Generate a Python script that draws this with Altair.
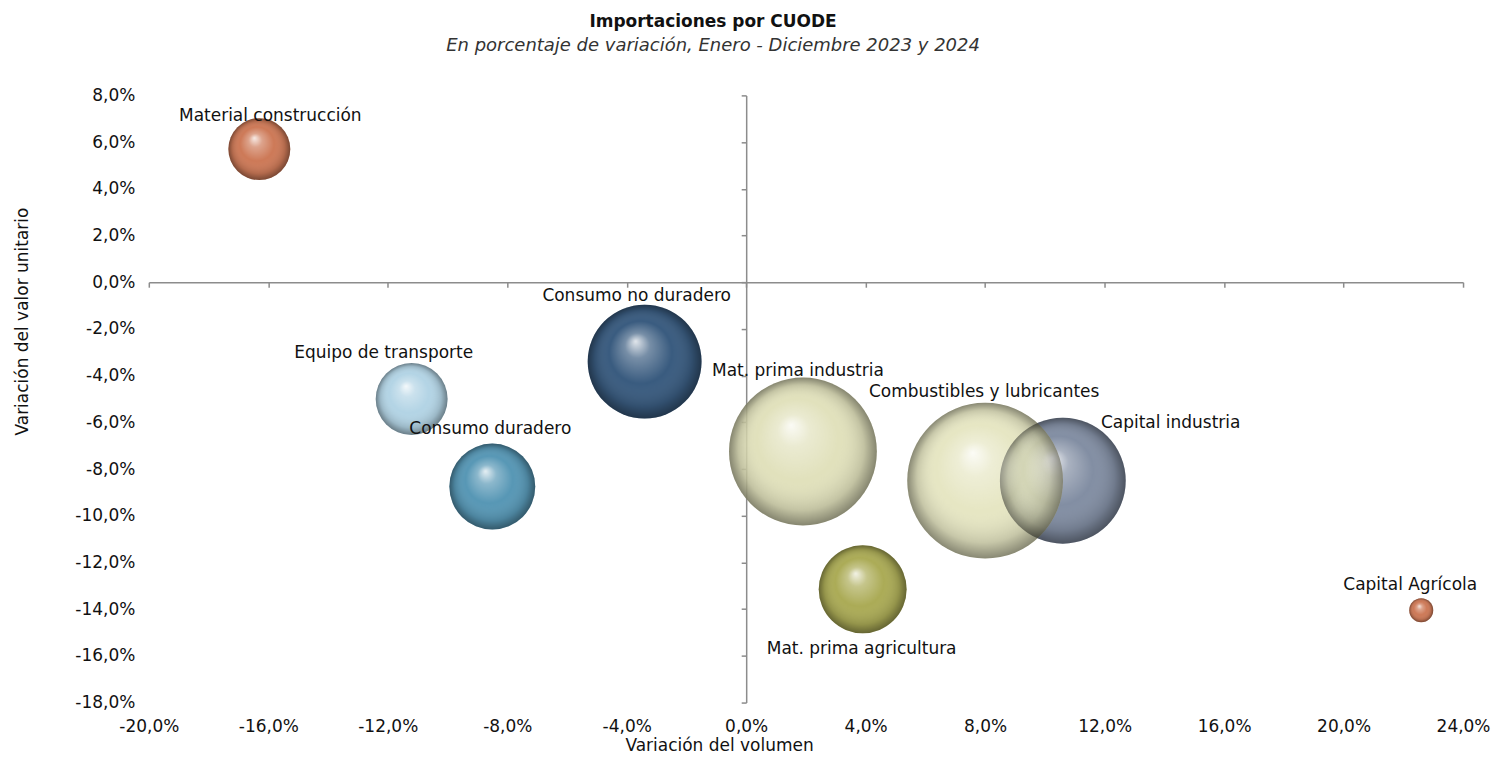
import altair as alt
import pandas as pd

categorias = ["Material construcción", "Equipo de transporte", "Consumo duradero",
              "Consumo no duradero", "Mat. prima industria", "Capital industria",
              "Combustibles y lubricantes", "Mat. prima agricultura", "Capital Agrícola"]
var_volumen = [-16.3, -11.2, -8.5, -3.4, 1.9, 10.6, 8.0, 3.9, 22.6]
var_valor = [5.7, -5.0, -8.75, -3.4, -7.25, -8.5, -8.5, -13.15, -14.05]
peso = [961, 1296, 1849, 3249, 5476, 3969, 6084, 1936, 144]

x_ticks = [-20, -16, -12, -8, -4, 0, 4, 8, 12, 16, 20, 24]
y_ticks = [-18, -16, -14, -12, -10, -8, -6, -4, -2, 0, 2, 4, 6, 8]

# styles
colores = ["#c4623a", "#a6cce0", "#3a85a8", "#163e68", "#dcdcb0",
           "#6c7a93", "#e2e2b8", "#9c9c38", "#c4623a"]
label_dx = [11, -28, -2, -8, -5, 108, -1, -1, -11]
label_dy = [-33, -46, -58, -66, -81, -58, -89, 60, -25]

df = pd.DataFrame({"cat": categorias, "vol": var_volumen, "val": var_valor, "peso": peso})

W, H = 1316, 608
XMIN, XMAX, YMIN, YMAX = -20, 24, -18, 8
FONT = "DejaVu Sans"
label_expr = "replace(replace(format(datum.value, '.1f'), '.', ','), '\u2212', '-') + '%'"

x_scale = alt.Scale(domain=[XMIN, XMAX], nice=False, zero=False)
y_scale = alt.Scale(domain=[YMIN, YMAX], nice=False, zero=False)
# Vega symbol size = area of bounding square -> (2r)^2
size_scale = alt.Scale(domain=[0, max(peso)], range=[0, (2 * 78) ** 2], zero=True)

base = alt.Chart(df)

bubbles = base.mark_circle(opacity=0.85).encode(
    x=alt.X("vol:Q", scale=x_scale,
            axis=alt.Axis(values=x_ticks, labelExpr=label_expr, domain=False, ticks=False,
                          grid=False, orient="bottom", title="Variación del volumen",
                          labelPadding=16, labelFlush=False, titleX=571, titlePadding=3)),
    y=alt.Y("val:Q", scale=y_scale,
            axis=alt.Axis(values=y_ticks, labelExpr=label_expr, domain=False, ticks=False,
                          grid=False, orient="left", title="Variación del valor unitario",
                          labelPadding=14, labelFlush=False, titleY=226, titlePadding=43)),
    size=alt.Size("peso:Q", scale=size_scale, legend=None),
    color=alt.Color("cat:N", scale=alt.Scale(domain=categorias, range=colores), legend=None),
)

shade = alt.Gradient(
    gradient="radial",
    x1=0.42, y1=0.32, r1=0.0,
    x2=0.5, y2=0.5, r2=0.5,
    stops=[
        alt.GradientStop(offset=0.0, color="rgba(255,255,255,0.95)"),
        alt.GradientStop(offset=0.22, color="rgba(255,255,255,0.35)"),
        alt.GradientStop(offset=0.55, color="rgba(255,255,255,0.0)"),
        alt.GradientStop(offset=0.85, color="rgba(0,0,0,0.15)"),
        alt.GradientStop(offset=1.0, color="rgba(0,0,0,0.45)"),
    ],
)

highlight = base.mark_circle(fill=shade, opacity=0.9).encode(
    x=alt.X("vol:Q", scale=x_scale, axis=None),
    y=alt.Y("val:Q", scale=y_scale, axis=None),
    size=alt.Size("peso:Q", scale=size_scale, legend=None),
)

y_off = H * (0 - YMIN) / (YMAX - YMIN)
x_off = W * (0 - XMIN) / (XMAX - XMIN)

axes_lines = base.mark_circle(opacity=0).encode(
    x=alt.X("vol:Q", scale=x_scale,
            axis=alt.Axis(values=x_ticks, labels=False, title=None, grid=False, orient="bottom",
                          offset=-y_off, domainColor="#8c8c8c", domainWidth=1.5,
                          tickColor="#8c8c8c", tickWidth=1.5, tickSize=5)),
    y=alt.Y("val:Q", scale=y_scale,
            axis=alt.Axis(values=y_ticks, labels=False, title=None, grid=False, orient="left",
                          offset=-x_off, domainColor="#8c8c8c", domainWidth=1.5,
                          tickColor="#8c8c8c", tickWidth=1.5, tickSize=5)),
)

label_layers = []
for c, dx, dy in zip(categorias, label_dx, label_dy):
    label_layers.append(
        base.transform_filter(alt.datum.cat == c).mark_text(
            dx=dx, dy=dy, fontSize=17, font=FONT, color="#111111"
        ).encode(
            x=alt.X("vol:Q", scale=x_scale, axis=None),
            y=alt.Y("val:Q", scale=y_scale, axis=None),
            text="cat:N",
        )
    )

chart = alt.layer(axes_lines, bubbles, highlight, *label_layers).resolve_axis(
    x="independent", y="independent"
).properties(
    width=W, height=H,
    padding={"left": 5, "top": 5, "right": 0, "bottom": 0},
    title=alt.TitleParams(
        text="Importaciones por CUODE",
        subtitle="En porcentaje de variación, Enero - Diciembre 2023 y 2024",
        anchor="middle", dx=-93, fontSize=17, fontWeight="bold", font=FONT,
        subtitleFont=FONT, subtitleFontSize=18, subtitleFontStyle="italic",
        subtitleColor="#333333", color="#111111", offset=30, subtitlePadding=6,
    ),
).configure_view(stroke=None).configure_axis(
    labelFont=FONT, labelFontSize=17, labelColor="#111111",
    titleFont=FONT, titleFontSize=17, titleColor="#111111", titleFontWeight="normal",
)

chart.save("out.html", embed_options={"renderer": "svg", "actions": False})
